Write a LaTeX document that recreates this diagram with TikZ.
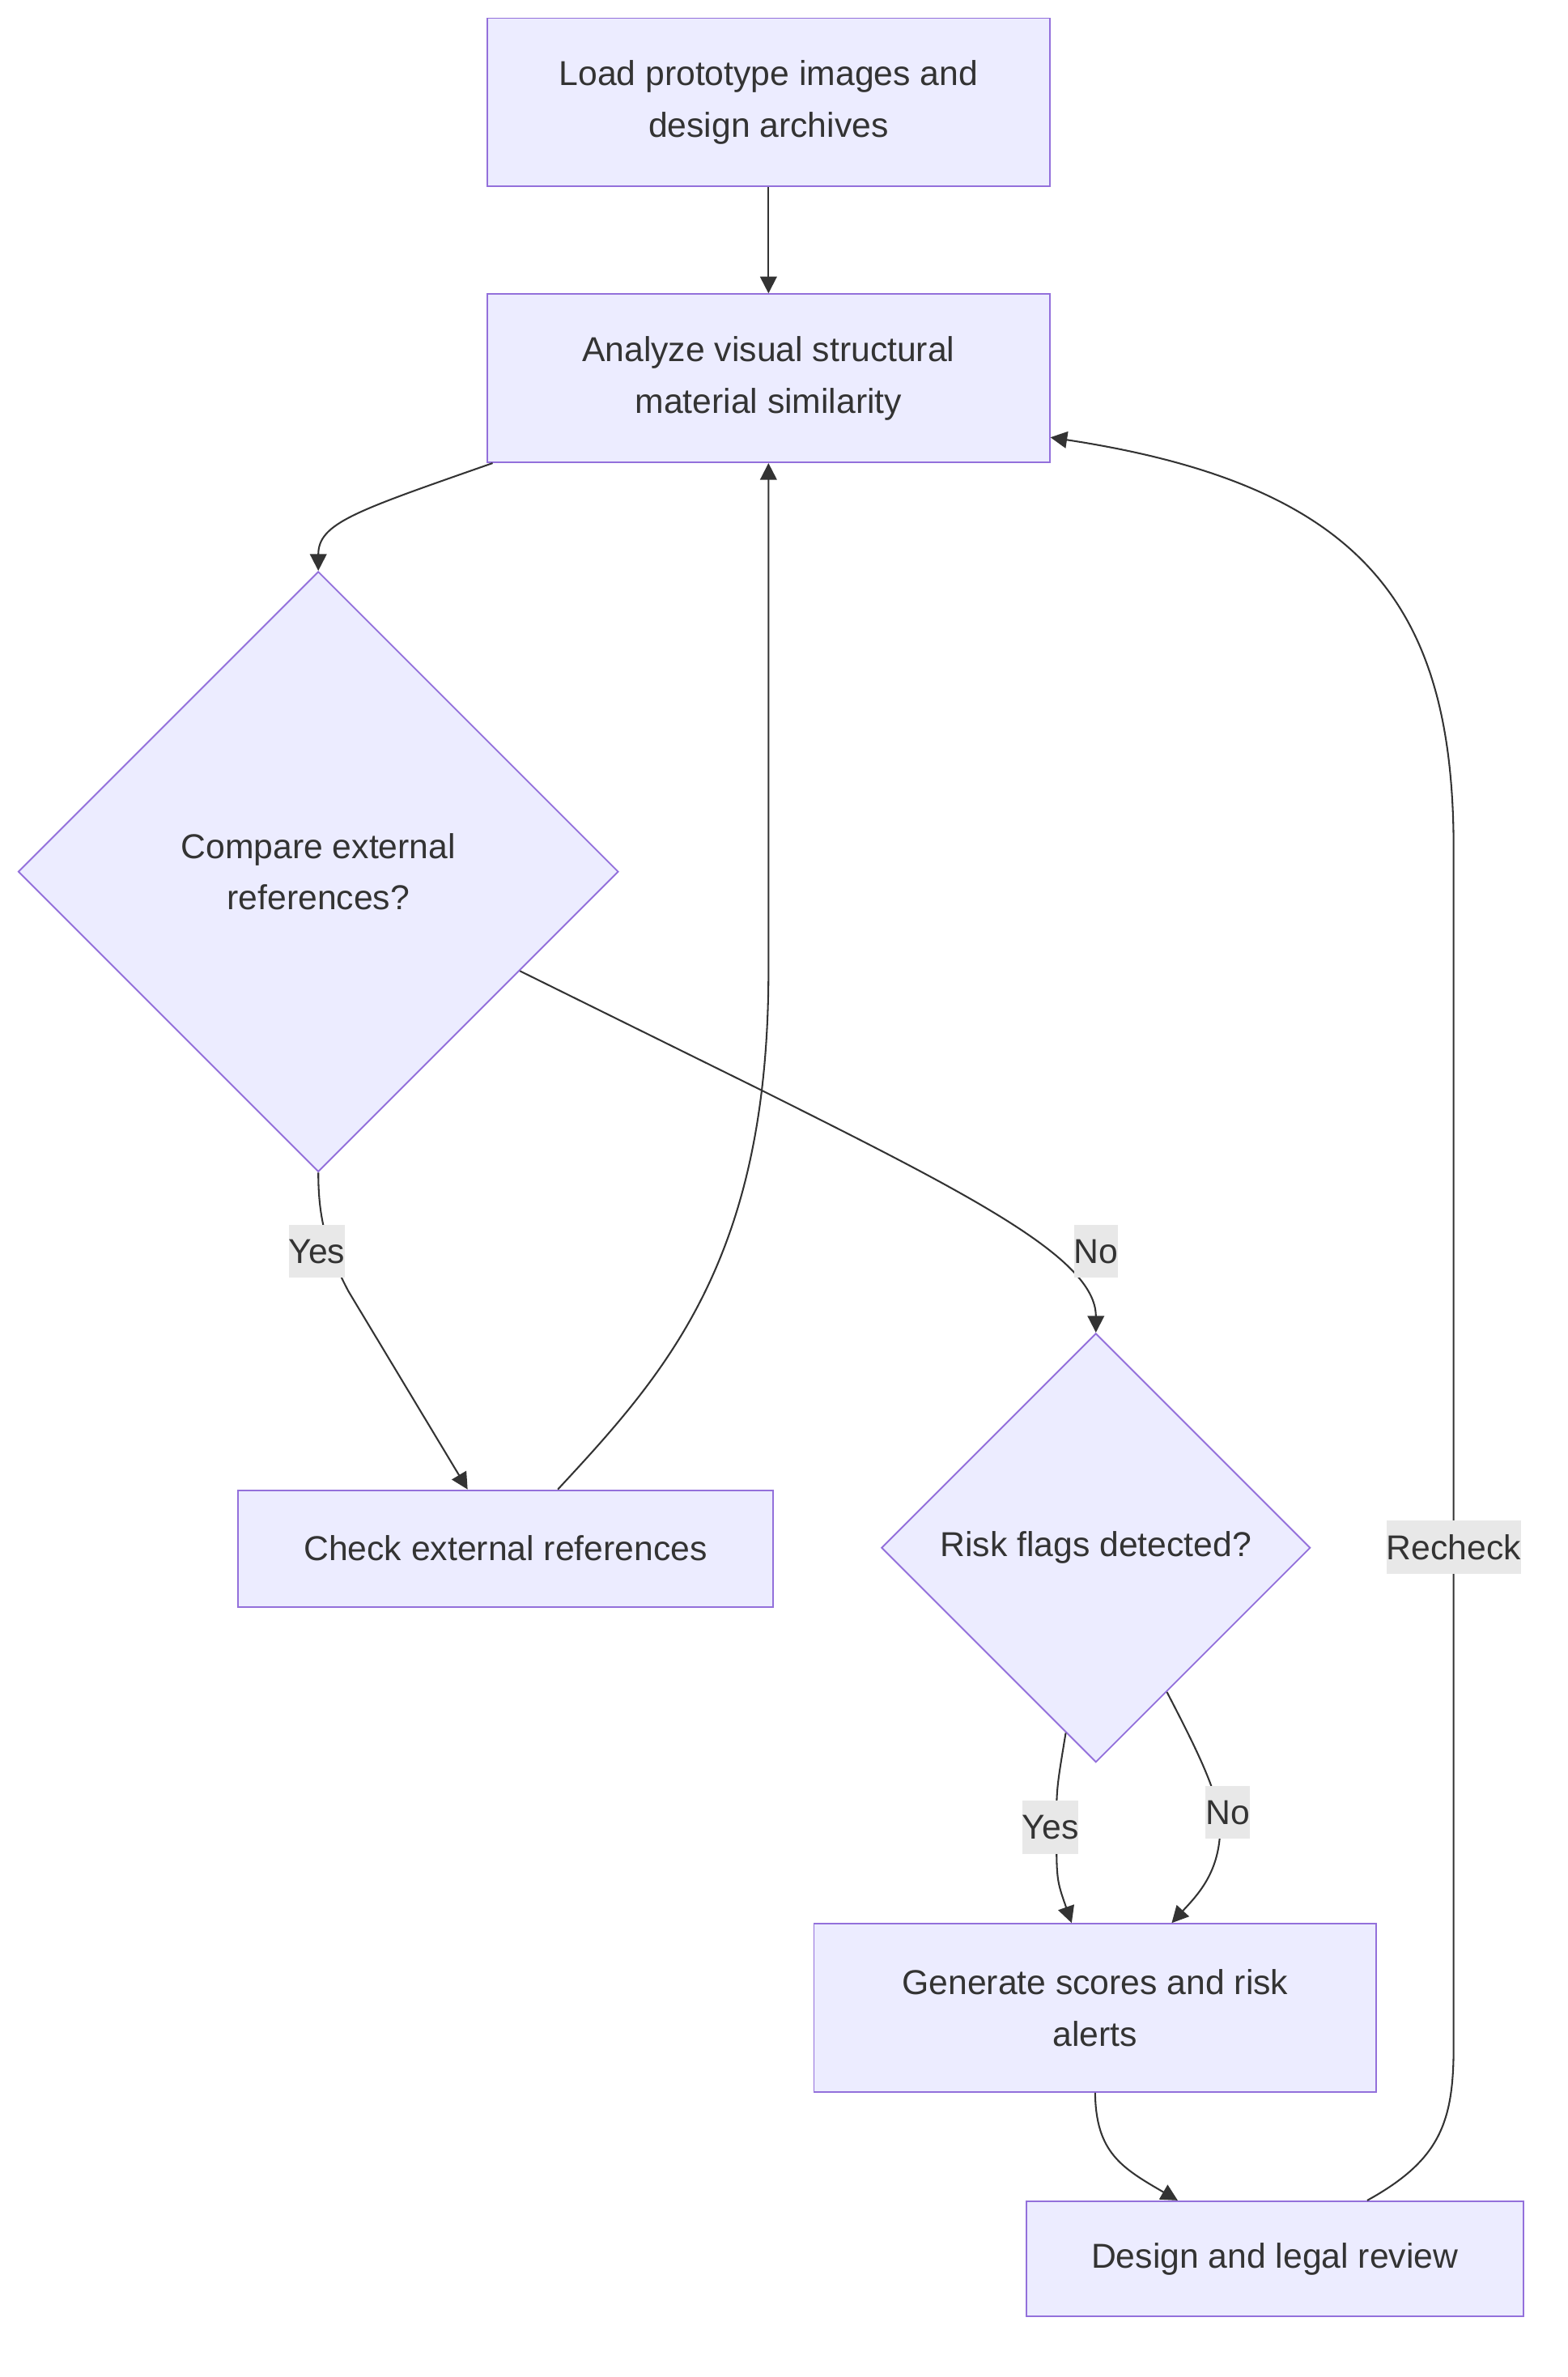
\documentclass[tikz,border=0pt]{standalone}
\usepackage{fontspec}
\setmainfont{Liberation Sans}
\usetikzlibrary{arrows.meta,shapes.geometric,calc}
\definecolor{nodefill}{HTML}{ECECFF}
\definecolor{nodeline}{HTML}{9370DB}
\definecolor{edgeline}{HTML}{333333}
\definecolor{lblfill}{HTML}{E8E8E8}
\tikzset{
  box/.style={draw=nodeline,fill=nodefill,line width=1pt,align=center,text=edgeline,font=\fontsize{22.8}{34}\selectfont,inner sep=0pt},
  dia/.style={diamond,aspect=1,draw=nodeline,fill=nodefill,line width=1pt,align=center,text=edgeline,font=\fontsize{22.8}{34}\selectfont,inner sep=0pt},
  lbl/.style={fill=lblfill,text=edgeline,font=\fontsize{22.8}{34}\selectfont,inner xsep=0pt,inner ysep=0pt,minimum height=35pt},
  arr/.style={-{Triangle[length=11pt,width=11pt]},line width=1.1pt,draw=edgeline},
}
\begin{document}
\begin{tikzpicture}[x=1pt,y=-1pt]
\useasboundingbox (0,0) rectangle (1034,1568);
\node[box,minimum width=371pt,minimum height=111pt] (load) at (507,67.5) {Load prototype images and\\design archives};
\node[box,minimum width=371pt,minimum height=111pt] (analyze) at (507,249.5) {Analyze visual structural\\material similarity};
\node[dia,minimum width=396pt,minimum height=396pt] (compare) at (210,575) {Compare external\\references?};
\node[box,minimum width=353pt,minimum height=77pt] (check) at (333.5,1021.5) {Check external references};
\node[dia,minimum width=283pt,minimum height=283pt] (risk) at (723,1021) {Risk flags detected?};
\node[box,minimum width=371pt,minimum height=111pt] (score) at (722.5,1324.5) {Generate scores and risk\\alerts};
\node[box,minimum width=328pt,minimum height=76pt] (review) at (841,1490) {Design and legal review};
% connectors
\draw[arr] (load) -- (analyze);
\draw[arr] ($(analyze.south west)+(4,0)$) .. controls (235,337) and (210,345) .. (compare.north);
\draw[arr] (compare.south) .. controls (210,800) and (214,822) .. (230,852) -- ($(check.north)+(-25,0)$);
\draw[arr] ($(compare.east)!0.33!(compare.south)$) -- (500,718) .. controls (640,788) and (723,830) .. (risk.north);
\draw[arr] ($(check.north)+(34.5,0)$) .. controls (440,905) and (507,830) .. (507,640) -- (analyze.south);
\draw[arr] ($(risk.south)!0.14!(risk.west)$) .. controls (697,1180) .. (697,1205) .. controls (697,1240) .. ($(score.north)+(-15.5,0)$);
\draw[arr] ($(risk.east)!0.67!(risk.south)$) .. controls (790,1155) and (805,1185) .. (805,1205) .. controls (805,1235) and (790,1250) .. ($(score.north)+(50.5,0)$);
\draw[arr] (score.south) .. controls (723,1420) and (740,1430) .. ($(review.north)+(-64,0)$);
\draw[arr] ($(review.north)+(61,0)$) .. controls (950,1425) and (959,1400) .. (959,1350) -- (959,560) .. controls (959,400) and (900,320) .. ($(analyze.south east)+(0,-17)$);
% edge labels
\node[lbl] (yesa) at (209,825.5) {Yes};
\node[lbl] (noa) at (723,825.5) {No};
\node[lbl] (yesb) at (693,1205.5) {Yes};
\node[lbl] (nob) at (810,1195.5) {No};
\node[lbl] (recheck) at (959,1020.5) {Recheck};
\end{tikzpicture}
\end{document}
